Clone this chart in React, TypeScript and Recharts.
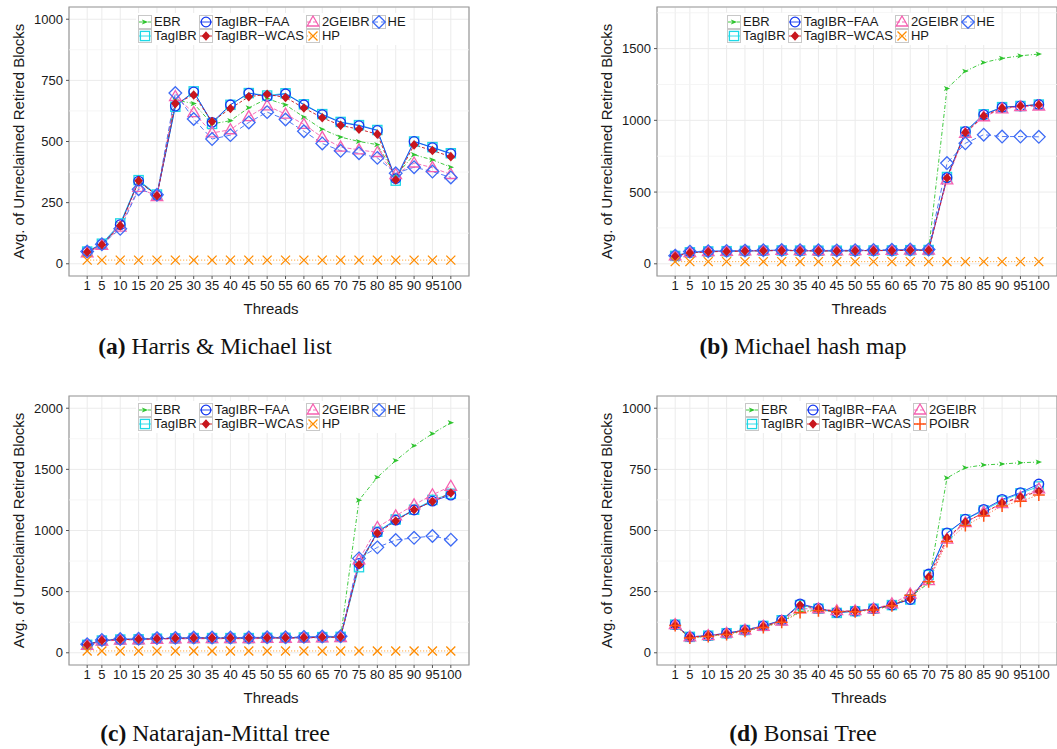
import React from 'react';
import {
  LineChart,
  Line,
  XAxis,
  YAxis,
  CartesianGrid,
  ReferenceLine,
  ReferenceArea,
  Legend,
  Label,
} from 'recharts';

// ---------- data ----------
const threads = [1, 5, 10, 15, 20, 25, 30, 35, 40, 45, 50, 55, 60, 65, 70, 75, 80, 85, 90, 95, 100];

// (a) Harris & Michael list
const listEBR = [45, 78, 160, 335, 280, 670, 655, 572, 585, 638, 675, 650, 600, 550, 518, 500, 487, 360, 446, 425, 395];
const listTagIBR = [50, 82, 165, 342, 283, 642, 705, 572, 650, 698, 688, 697, 652, 612, 580, 567, 547, 340, 500, 477, 452];
const listFAA = [50, 80, 160, 338, 280, 645, 703, 578, 650, 698, 684, 695, 650, 610, 578, 565, 545, 348, 500, 475, 450];
const listWCAS = [48, 78, 155, 340, 278, 655, 690, 582, 635, 683, 693, 680, 637, 597, 566, 550, 530, 343, 486, 463, 438];
const list2GE = [45, 75, 150, 312, 275, 684, 618, 535, 548, 602, 646, 612, 570, 517, 477, 466, 455, 365, 412, 393, 365];
const listHE = [50, 80, 143, 305, 282, 698, 592, 510, 526, 578, 620, 590, 542, 492, 462, 452, 433, 370, 395, 377, 353];
const listHP = [15, 15, 15, 15, 15, 15, 15, 15, 15, 15, 15, 15, 15, 15, 15, 15, 15, 15, 15, 15, 15];

// (b) Michael hash map
const hashEBR = [55, 80, 85, 88, 90, 92, 93, 92, 91, 90, 92, 93, 93, 95, 95, 1222, 1342, 1403, 1432, 1450, 1462];
const hashTagIBR = [55, 80, 86, 88, 90, 92, 93, 92, 91, 91, 92, 93, 93, 95, 96, 605, 920, 1042, 1092, 1100, 1110];
const hashFAA = [55, 80, 86, 88, 90, 92, 93, 92, 91, 91, 92, 93, 93, 95, 96, 600, 922, 1040, 1090, 1100, 1110];
const hashWCAS = [52, 76, 84, 86, 89, 91, 92, 91, 90, 89, 91, 92, 92, 94, 95, 598, 915, 1030, 1085, 1100, 1108];
const hash2GE = [55, 78, 85, 87, 90, 92, 93, 92, 91, 90, 92, 93, 93, 95, 95, 585, 910, 1025, 1080, 1095, 1100];
const hashHE = [57, 85, 88, 90, 92, 94, 96, 95, 94, 93, 95, 97, 98, 100, 100, 702, 840, 900, 887, 887, 885];
const hashHP = [15, 15, 15, 15, 15, 15, 15, 15, 15, 15, 15, 15, 15, 15, 15, 15, 15, 15, 15, 15, 15];

// (c) Natarajan-Mittal tree
const treeEBR = [65, 100, 108, 110, 115, 118, 120, 120, 120, 120, 122, 122, 125, 128, 130, 1248, 1435, 1572, 1693, 1792, 1882];
const treeTagIBR = [65, 100, 108, 110, 115, 118, 120, 120, 120, 120, 122, 122, 125, 128, 130, 700, 990, 1090, 1170, 1250, 1300];
const treeFAA = [66, 100, 108, 110, 115, 118, 120, 120, 120, 120, 122, 122, 125, 128, 130, 730, 985, 1085, 1168, 1240, 1290];
const treeWCAS = [65, 100, 108, 110, 115, 118, 120, 120, 120, 120, 122, 122, 124, 127, 128, 720, 978, 1078, 1170, 1237, 1307];
const tree2GE = [60, 95, 103, 106, 110, 113, 115, 115, 115, 115, 117, 117, 120, 123, 125, 760, 1025, 1120, 1210, 1292, 1362];
const treeHE = [70, 105, 112, 115, 120, 122, 125, 125, 125, 125, 127, 127, 130, 133, 135, 772, 862, 922, 940, 955, 925];
const treeHP = [15, 15, 15, 15, 15, 15, 15, 15, 15, 15, 15, 15, 15, 15, 15, 15, 15, 15, 15, 15, 15];

// (d) Bonsai Tree
const bonEBR = [112, 62, 68, 78, 90, 105, 128, 168, 178, 170, 172, 178, 192, 228, 285, 715, 757, 768, 772, 777, 780];
const bonTagIBR = [115, 65, 70, 80, 93, 110, 133, 195, 180, 163, 170, 180, 195, 218, 318, 488, 545, 582, 622, 652, 680];
const bonFAA = [115, 65, 70, 80, 93, 110, 133, 200, 182, 165, 170, 180, 195, 218, 322, 490, 546, 586, 627, 655, 690];
const bonWCAS = [112, 63, 70, 78, 91, 107, 131, 195, 180, 167, 170, 178, 196, 220, 310, 470, 535, 572, 612, 637, 660];
const bon2GE = [115, 65, 70, 80, 93, 108, 130, 180, 180, 172, 172, 180, 200, 240, 295, 465, 532, 575, 610, 636, 670];
const bonPOIBR = [112, 60, 67, 75, 88, 103, 125, 165, 172, 168, 168, 175, 192, 235, 290, 455, 520, 560, 600, 620, 645];

const ticks1000 = [0, 250, 500, 750, 1000];
const minor1000 = [125, 375, 625, 875];
const ticks1500 = [0, 500, 1000, 1500];
const minor1500 = [250, 750, 1250, 1750];
const ticks2000 = [0, 500, 1000, 1500, 2000];
const minor2000 = [250, 750, 1250, 1750];

// ---------- styles ----------
type Kind = 'arrow' | 'square' | 'circle' | 'dfill' | 'triangle' | 'diamond' | 'x' | 'plus';
interface SeriesStyle { name: string; color: string; dash?: string; kind: Kind; }
const STY: Record<string, SeriesStyle> = {
  ebr: { name: 'EBR', color: '#2EC42E', dash: '4 2 1 2', kind: 'arrow' },
  tag: { name: 'TagIBR', color: '#1ED8E6', kind: 'square' },
  faa: { name: 'TagIBR\u2212FAA', color: '#1538F0', kind: 'circle' },
  wcas: { name: 'TagIBR\u2212WCAS', color: '#C8161D', dash: '3 2', kind: 'dfill' },
  ge2: { name: '2GEIBR', color: '#F560B0', dash: '4 2', kind: 'triangle' },
  he: { name: 'HE', color: '#3E6BF5', dash: '5 3', kind: 'diamond' },
  hp: { name: 'HP', color: '#FF8C00', dash: '1 2', kind: 'x' },
  po: { name: 'POIBR', color: '#FF5014', dash: '1 2', kind: 'plus' },
};

function Marker({ kind, cx, cy, color }: { kind: Kind; cx: number; cy: number; color: string }) {
  const sw = 1.3;
  switch (kind) {
    case 'arrow':
      return <path d={`M${cx - 3.2},${cy - 2.6}L${cx + 3.2},${cy}L${cx - 3.2},${cy + 2.6}L${cx - 1.6},${cy}Z`} fill={color} stroke="none" />;
    case 'square':
      return <rect x={cx - 4.6} y={cy - 4.6} width={9.2} height={9.2} fill="none" stroke={color} strokeWidth={sw} />;
    case 'circle':
      return <circle cx={cx} cy={cy} r={4.8} fill="none" stroke={color} strokeWidth={sw} />;
    case 'dfill':
      return <path d={`M${cx},${cy - 4.8}L${cx + 4.3},${cy}L${cx},${cy + 4.8}L${cx - 4.3},${cy}Z`} fill={color} stroke="none" />;
    case 'triangle':
      return <path d={`M${cx},${cy - 6}L${cx + 5.8},${cy + 4}L${cx - 5.8},${cy + 4}Z`} fill="none" stroke={color} strokeWidth={sw} />;
    case 'diamond':
      return <path d={`M${cx},${cy - 6.3}L${cx + 6.3},${cy}L${cx},${cy + 6.3}L${cx - 6.3},${cy}Z`} fill="none" stroke={color} strokeWidth={sw} />;
    case 'x':
      return <path d={`M${cx - 4.5},${cy - 4.5}L${cx + 4.5},${cy + 4.5}M${cx - 4.5},${cy + 4.5}L${cx + 4.5},${cy - 4.5}`} stroke={color} strokeWidth={sw} fill="none" />;
    case 'plus':
      return <path d={`M${cx - 6},${cy}L${cx + 6},${cy}M${cx},${cy - 6}L${cx},${cy + 6}`} stroke={color} strokeWidth={1.5} fill="none" />;
  }
  return null;
}

function LegendBox({ keys }: { keys: string[] }) {
  return (
    <div
      style={{
        background: '#fff',
        display: 'grid',
        gridTemplateRows: '14px 14px',
        gridAutoFlow: 'column',
        gridAutoColumns: 'max-content',
        padding: 2,
        fontSize: 13,
        lineHeight: '14px',
        color: '#1a1a1a',
        fontFamily: '"Liberation Sans", Arial, sans-serif',
      }}
    >
      {keys.map((k) => {
        const s = STY[k];
        return (
          <div key={k} style={{ display: 'flex', alignItems: 'center', height: 14, paddingRight: 2 }}>
            <svg width={14} height={14} style={{ display: 'block' }}>
              <rect x={0.5} y={0.5} width={13} height={13} fill="#fff" stroke="#c8c8c8" strokeWidth={1} />
              <line x1={1} y1={7} x2={13} y2={7} stroke={s.color} strokeWidth={0.9} strokeDasharray={s.dash} />
              <Marker kind={s.kind} cx={7} cy={7} color={s.color} />
            </svg>
            <span style={{ marginLeft: 2, whiteSpace: 'nowrap' }}>{s.name}</span>
          </div>
        );
      })}
    </div>
  );
}

interface PanelProps {
  left: number;
  top: number;
  series: { key: string; values: number[] }[];
  legendKeys: string[];
  yDomain: [number, number];
  yTicks: number[];
  yMinor: number[];
  legendLeft: number;
  legendTop: number;
}

const X_DOMAIN: [number, number] = [-3.95, 104.95];

function Panel({ left, top, series, legendKeys, yDomain, yTicks, yMinor, legendLeft, legendTop }: PanelProps) {
  const data = threads.map((t, i) => {
    const row: Record<string, number> = { x: t };
    series.forEach((s) => {
      row[s.key] = s.values[i];
    });
    return row;
  });
  const yLabel = (props: any) => {
    const vb = props.viewBox || { x: 0, y: 7, width: 69, height: 269 };
    const cx = 18;
    const cy = vb.y + vb.height / 2;
    return (
      <text x={cx} y={cy} transform={`rotate(-90 ${cx} ${cy})`} textAnchor="middle" dominantBaseline="central" fontSize={15} fill="#1a1a1a">
        Avg. of Unreclaimed Retired Blocks
      </text>
    );
  };
  const xLabel = (props: any) => {
    const vb = props.viewBox || { x: 69, y: 276, width: 400, height: 44 };
    return (
      <text x={vb.x + vb.width / 2 + 2} y={vb.y + 38} textAnchor="middle" fontSize={15} fill="#1a1a1a">
        Threads
      </text>
    );
  };
  return (
    <div style={{ position: 'absolute', left, top }}>
      <LineChart width={470} height={320} data={data} margin={{ top: 7, right: 1, bottom: 0, left: 0 }}>
        <CartesianGrid stroke="#EBEBEB" strokeWidth={1} />
        {yMinor.map((v) => (
          <ReferenceLine key={`m${v}`} y={v} stroke="#F3F3F3" strokeWidth={0.8} />
        ))}
        <XAxis
          type="number"
          dataKey="x"
          domain={X_DOMAIN}
          ticks={threads}
          interval={0}
          allowDataOverflow
          height={44}
          tickSize={3}
          tickMargin={2}
          axisLine={false}
          tickLine={{ stroke: '#555' }}
          tick={{ fontSize: 13, fill: '#1a1a1a' }}
          label={<Label content={xLabel} />}
        />
        <YAxis
          type="number"
          domain={yDomain}
          ticks={yTicks}
          interval={0}
          allowDataOverflow
          width={69}
          tickSize={3}
          tickMargin={3}
          axisLine={false}
          tickLine={{ stroke: '#555' }}
          tick={{ fontSize: 13, fill: '#1a1a1a' }}
          label={<Label content={yLabel} />}
        />
        {series.map((s) => {
          const st = STY[s.key];
          return (
            <Line
              key={s.key}
              type="linear"
              dataKey={s.key}
              name={st.name}
              stroke={st.color}
              strokeWidth={0.9}
              strokeDasharray={st.dash}
              isAnimationActive={false}
              activeDot={false}
              dot={(p: any) => <Marker key={`${s.key}-${p.index}`} kind={st.kind} cx={p.cx} cy={p.cy} color={st.color} />}
            />
          );
        })}
        <ReferenceArea
          x1={X_DOMAIN[0]}
          x2={X_DOMAIN[1]}
          y1={yDomain[0]}
          y2={yDomain[1]}
          fill="none"
          fillOpacity={0}
          stroke="#9a9a9a"
          strokeWidth={1.2}
          ifOverflow="visible"
        />
        <Legend
          layout="horizontal"
          verticalAlign="middle"
          align="center"
          wrapperStyle={{ left: legendLeft, top: legendTop, width: 'auto', height: 'auto' }}
          content={() => <LegendBox keys={legendKeys} />}
        />
      </LineChart>
    </div>
  );
}

function Caption({ cx, cy, tag, text }: { cx: number; cy: number; tag: string; text: string }) {
  return (
    <div
      style={{
        position: 'absolute',
        left: cx - 200,
        top: cy - 14,
        width: 400,
        textAlign: 'center',
        fontFamily: '"Liberation Serif", "DejaVu Serif", serif',
        fontSize: 23.5,
        lineHeight: '28px',
        color: '#111',
        whiteSpace: 'nowrap',
      }}
    >
      <b>{tag}</b> {text}
    </div>
  );
}

const legend7 = ['ebr', 'tag', 'faa', 'wcas', 'ge2', 'hp', 'he'];
const legend6 = ['ebr', 'tag', 'faa', 'wcas', 'ge2', 'po'];

export default function App() {
  return (
    <div
      style={{
        position: 'absolute',
        left: 0,
        top: 0,
        width: 1057,
        height: 749,
        background: '#fff',
        overflow: 'hidden',
        fontFamily: '"Liberation Sans", Arial, sans-serif',
      }}
    >
      <Panel
        left={0}
        top={0}
        series={[
          { key: 'ebr', values: listEBR },
          { key: 'tag', values: listTagIBR },
          { key: 'faa', values: listFAA },
          { key: 'ge2', values: list2GE },
          { key: 'he', values: listHE },
          { key: 'wcas', values: listWCAS },
          { key: 'hp', values: listHP },
        ]}
        legendKeys={legend7}
        yDomain={[-50, 1050]}
        yTicks={ticks1000}
        yMinor={minor1000}
        legendLeft={136}
        legendTop={13}
      />
      <Panel
        left={588}
        top={0}
        series={[
          { key: 'ebr', values: hashEBR },
          { key: 'tag', values: hashTagIBR },
          { key: 'faa', values: hashFAA },
          { key: 'ge2', values: hash2GE },
          { key: 'he', values: hashHE },
          { key: 'wcas', values: hashWCAS },
          { key: 'hp', values: hashHP },
        ]}
        legendKeys={legend7}
        yDomain={[-85, 1790]}
        yTicks={ticks1500}
        yMinor={minor1500}
        legendLeft={137}
        legendTop={13}
      />
      <Panel
        left={0}
        top={389}
        series={[
          { key: 'ebr', values: treeEBR },
          { key: 'tag', values: treeTagIBR },
          { key: 'faa', values: treeFAA },
          { key: 'ge2', values: tree2GE },
          { key: 'he', values: treeHE },
          { key: 'wcas', values: treeWCAS },
          { key: 'hp', values: treeHP },
        ]}
        legendKeys={legend7}
        yDomain={[-100, 2100]}
        yTicks={ticks2000}
        yMinor={minor2000}
        legendLeft={136}
        legendTop={12}
      />
      <Panel
        left={588}
        top={389}
        series={[
          { key: 'ebr', values: bonEBR },
          { key: 'tag', values: bonTagIBR },
          { key: 'faa', values: bonFAA },
          { key: 'ge2', values: bon2GE },
          { key: 'wcas', values: bonWCAS },
          { key: 'po', values: bonPOIBR },
        ]}
        legendKeys={legend6}
        yDomain={[-50, 1050]}
        yTicks={ticks1000}
        yMinor={minor1000}
        legendLeft={155}
        legendTop={12}
      />
      <Caption cx={215} cy={346} tag="(a)" text="Harris & Michael list" />
      <Caption cx={803} cy={346} tag="(b)" text="Michael hash map" />
      <Caption cx={215} cy={733} tag="(c)" text="Natarajan-Mittal tree" />
      <Caption cx={803} cy={733} tag="(d)" text="Bonsai Tree" />
    </div>
  );
}
